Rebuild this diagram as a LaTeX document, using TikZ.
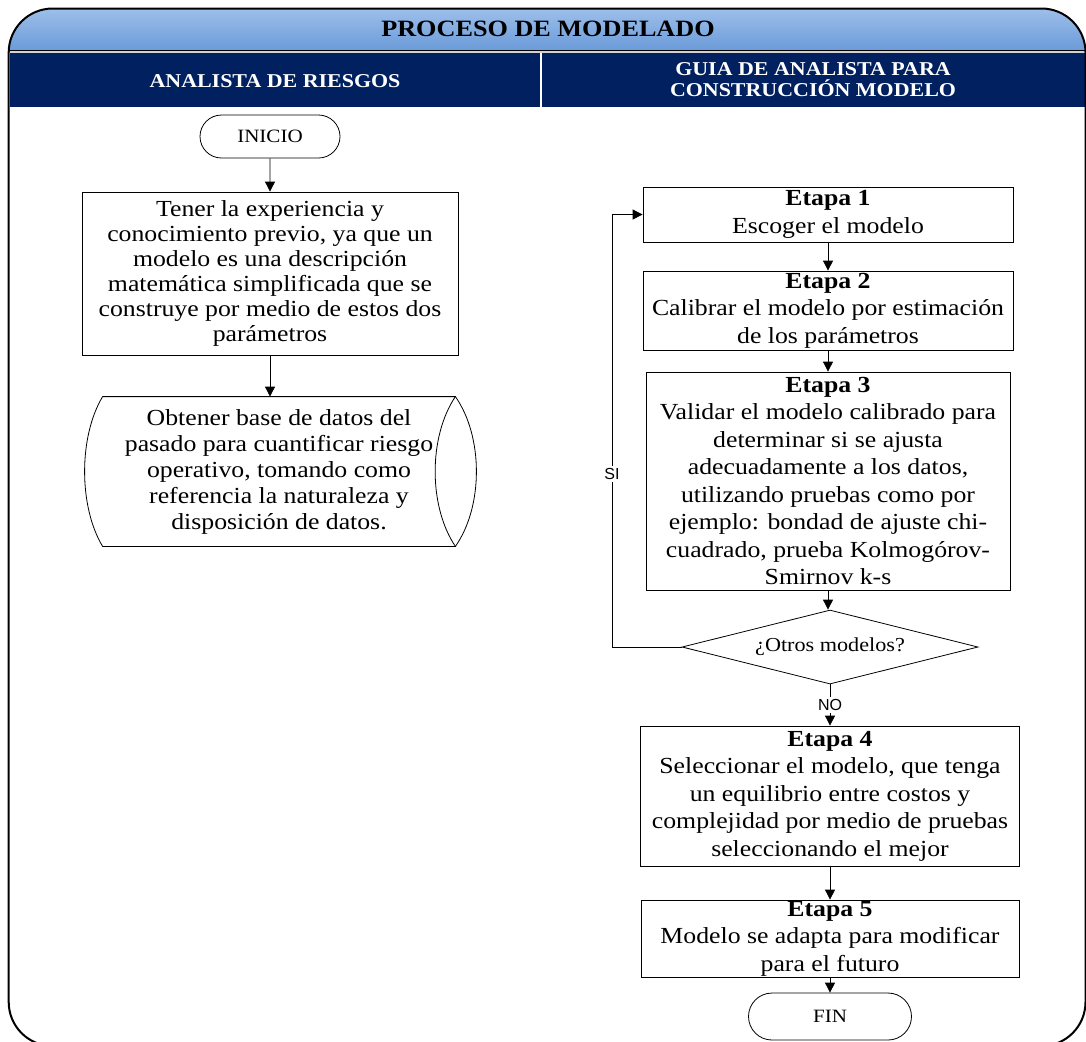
\documentclass[tikz,border=0pt]{standalone}
\usepackage{fontspec}
\setmainfont{Liberation Serif}[FakeStretch=1.12]
\setsansfont{Liberation Sans}
\usetikzlibrary{shapes.geometric,shapes.misc,arrows.meta}
\definecolor{azulosc}{HTML}{002060}
\definecolor{azulsup}{HTML}{9DBFEA}
\definecolor{azulinf}{HTML}{6B9BD9}
\begin{document}
\begin{tikzpicture}[x=0.5pt,y=-0.5pt,
  caja/.style={draw, inner sep=0pt, align=center, font=\fontsize{11.5}{13.75}\selectfont},
  terminal/.style={draw, rounded rectangle, inner sep=0pt, font=\fontsize{9.4}{11}\selectfont},
  flecha/.style={-{Triangle[width=5pt,length=5pt]}},
  cabecera/.style={text=white, font=\bfseries\fontsize{9.8}{10.5}\selectfont, align=center},
  etiq/.style={fill=white, inner sep=1pt, font=\sffamily\fontsize{8}{9}\selectfont}]
\useasboundingbox (0,0) rectangle (1086,1041);
\shade[top color=azulsup, bottom color=azulinf] (8.7,50) [rounded corners=22pt] -- (8.7,8.5) -- (1085.5,8.5) [sharp corners] -- (1085.5,50) -- cycle;
\fill[gray!35] (8.7,50) rectangle (1085.5,53);
\fill[azulosc] (10,53) rectangle (540,107);
\fill[azulosc] (542,53) rectangle (1086,107);
\draw (8.7,50) -- (1085.5,50);
\draw[line width=1pt, rounded corners=22pt] (8.7,8.5) rectangle (1085.5,1046);
\node[font=\bfseries\fontsize{11.7}{14}\selectfont] (titulo) at (548,29) {PROCESO DE MODELADO};
\node[cabecera] (carril1) at (275,81) {ANALISTA DE RIESGOS};
\node[cabecera] (carril2) at (813,79.5) {GUIA DE ANALISTA PARA\\CONSTRUCCIÓN MODELO};
\node[terminal, minimum width=70pt, minimum height=21.5pt] (inicio) at (270,136.5) {INICIO};
\node[caja, minimum width=188pt, minimum height=81.5pt, font=\fontsize{11.5}{12.5}\selectfont] (tener) at (270,273.5) {Tener la experiencia y\\conocimiento previo, ya que un\\modelo es una descripción\\matemática simplificada que se\\construye por medio de estos dos\\parámetros};
\node[inner sep=0pt, minimum width=176pt, minimum height=74.5pt, align=center, font=\fontsize{11.5}{13}\selectfont] (obtener) at (279,471.5) {Obtener base de datos del\\pasado para cuantificar riesgo\\operativo, tomando como\\referencia la naturaleza y\\disposición de datos.};
\draw (obtener.north west) -- (obtener.north east) .. controls +(-27,40) and +(-27,-40) .. (obtener.south east) -- (obtener.south west) .. controls +(-24,-40) and +(-24,40) .. (obtener.north west);
\draw (obtener.north east) .. controls +(28,40) and +(28,-40) .. (obtener.south east);
\node[caja, minimum width=185pt, minimum height=27.5pt] (etapa1) at (828,214.5) {\textbf{Etapa 1}\\Escoger el modelo};
\node[caja, minimum width=185pt, minimum height=39.5pt] (etapa2) at (828,310.5) {\textbf{Etapa 2}\\Calibrar el modelo por estimación\\de los parámetros};
\node[caja, minimum width=182pt, minimum height=109pt] (etapa3) at (828,481) {\textbf{Etapa 3}\\Validar el modelo calibrado para\\determinar si se ajusta\\adecuadamente a los datos,\\utilizando pruebas como por\\ejemplo: bondad de ajuste chi-\\cuadrado, prueba Kolmogórov-\\Smirnov k-s};
\node[draw, diamond, aspect=4, inner sep=0pt, minimum width=148pt, minimum height=37pt, font=\fontsize{9.9}{12}\selectfont] (decision) at (830,647) {¿Otros modelos?};
\node[caja, minimum width=189.5pt, minimum height=70pt] (etapa4) at (830,796) {\textbf{Etapa 4}\\Seleccionar el modelo, que tenga\\un equilibrio entre costos y\\complejidad por medio de pruebas\\seleccionando el mejor};
\node[caja, minimum width=189pt, minimum height=38.5pt] (etapa5) at (830,938.5) {\textbf{Etapa 5}\\Modelo se adapta para modificar\\para el futuro};
\node[terminal, minimum width=81.5pt, minimum height=23.5pt] (fin) at (830,1016.5) {FIN};
\coordinate (retorno) at (612,647);
\draw[flecha] (inicio) -- (tener);
\draw[flecha] (tener.south) -- (tener.south |- obtener.north);
\draw[flecha] (etapa1) -- (etapa2);
\draw[flecha] (etapa2) -- (etapa3);
\draw[flecha] (etapa3.south) -- (etapa3.south |- decision.north);
\draw[flecha] (decision) -- node[etiq] (no) {NO} (etapa4);
\draw[flecha] (etapa4) -- (etapa5);
\draw[flecha] (etapa5) -- (fin);
\draw[flecha] (decision.west) -- (retorno) |- node[etiq, pos=0.2] (si) {SI} (etapa1.west);
\end{tikzpicture}
\end{document}
